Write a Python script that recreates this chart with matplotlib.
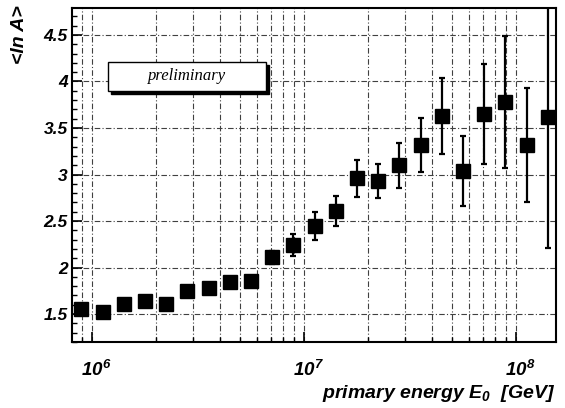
import numpy as np
import matplotlib
matplotlib.use("Agg")
import matplotlib.pyplot as plt
from matplotlib.ticker import MultipleLocator, FixedLocator, FuncFormatter, NullFormatter
from matplotlib.patches import Rectangle

# ---- data ----
log_energy = [5.95, 6.05, 6.15, 6.25, 6.35, 6.45, 6.55, 6.65, 6.75, 6.85, 6.95, 7.05,
              7.15, 7.25, 7.35, 7.45, 7.55, 7.65, 7.75, 7.85, 7.95, 8.05, 8.15]
mean_lnA = [1.556, 1.527, 1.61, 1.638, 1.613, 1.75, 1.78, 1.846, 1.853, 2.11, 2.24, 2.45,
            2.605, 2.96, 2.93, 3.10, 3.32, 3.63, 3.035, 3.65, 3.78, 3.32, 3.62]
err_lnA = [0.02, 0.02, 0.02, 0.02, 0.02, 0.03, 0.03, 0.03, 0.04, 0.07, 0.12, 0.15,
           0.16, 0.20, 0.18, 0.24, 0.29, 0.41, 0.375, 0.54, 0.71, 0.61, 1.41]
xtick_decades = [6, 7, 8]
ytick_values = [1.5, 2, 2.5, 3, 3.5, 4, 4.5]

plt.rcParams['mathtext.fontset'] = 'custom'
plt.rcParams['mathtext.rm'] = 'Liberation Sans:bold:italic'
plt.rcParams['mathtext.it'] = 'Liberation Sans:bold:italic'
plt.rcParams['mathtext.bf'] = 'Liberation Sans:bold:italic'
plt.rcParams['mathtext.default'] = 'rm'

W, H = 565, 408
fig = plt.figure(figsize=(W / 100, H / 100), dpi=100)
L, R, T, B = 72, 556, 8, 342
ax = fig.add_axes([L / W, (H - B) / H, (R - L) / W, (B - T) / H])

energy = [10 ** e for e in log_energy]
ax.set_xscale('log')
ax.set_xlim(10 ** 5.906, 10 ** 8.189)
ax.set_ylim(1.2, 4.79)

# grid
minor_x = [m * 10 ** d for d in (5, 6, 7) for m in range(2, 10)]
ax.xaxis.set_major_locator(FixedLocator([10 ** d for d in xtick_decades]))
ax.xaxis.set_minor_locator(FixedLocator(minor_x))
ax.yaxis.set_major_locator(FixedLocator(ytick_values))
ax.yaxis.set_minor_locator(MultipleLocator(0.1))

gstyle = dict(color='0.25', linewidth=0.8, linestyle=(0, (5, 2, 1, 2)))
ax.grid(True, which='both', axis='x', **gstyle)
ax.grid(True, which='major', axis='y', **gstyle)
ax.set_axisbelow(True)

ax.errorbar(energy, mean_lnA, yerr=err_lnA, fmt='s', color='black', ms=10,
            capsize=2.2, elinewidth=1.6, capthick=1.6, zorder=3)

ax.xaxis.set_major_formatter(FuncFormatter(lambda v, p: r'$10^{%d}$' % round(np.log10(v))))
ax.xaxis.set_minor_formatter(NullFormatter())
ax.yaxis.set_major_formatter(FuncFormatter(lambda v, p: '%g' % v))

for lab in ax.get_yticklabels():
    lab.set_fontfamily('Liberation Sans')
    lab.set_fontweight('bold')
    lab.set_fontstyle('italic')

ax.tick_params(axis='both', which='both', direction='in', top=False, right=False)
ax.tick_params(axis='both', which='major', length=7, width=1.2)
ax.tick_params(axis='both', which='minor', length=3.5, width=1.0)
ax.tick_params(axis='x', which='major', pad=13, labelsize=13.5)
ax.tick_params(axis='y', which='major', pad=3, labelsize=12.5)

for lab in ax.get_xticklabels():
    lab.set_x(lab.get_position()[0])
# shift x tick labels slightly right like the original
import matplotlib.transforms as mtransforms
offset = mtransforms.ScaledTranslation(4 / 100, 0, fig.dpi_scale_trans)
for lab in ax.get_xticklabels():
    lab.set_transform(lab.get_transform() + offset)

for s in ax.spines.values():
    s.set_linewidth(1.5)

font_bi = dict(family='Liberation Sans', fontweight='bold', fontstyle='italic')
fig.text(19 / W, 1 - 5 / H, '<ln A>', rotation=90, ha='center', va='top',
         fontsize=14, **font_bi)
fig.text(555 / W, 1 - 393 / H, r'primary energy $E_0$  [GeV]', ha='right', va='center',
         fontsize=14, **font_bi)

# preliminary box with shadow
bx0, bx1 = (108 - L) / (R - L), (266 - L) / (R - L)
by0, by1 = (B - 91) / (B - T), (B - 62) / (B - T)
dx, dy = 3 / (R - L), 3 / (B - T)
ax.add_patch(Rectangle((bx0 + dx, by0 - dy), bx1 - bx0, by1 - by0, transform=ax.transAxes,
                       facecolor='black', edgecolor='black', zorder=5))
ax.add_patch(Rectangle((bx0, by0), bx1 - bx0, by1 - by0, transform=ax.transAxes,
                       facecolor='white', edgecolor='black', linewidth=1.0, zorder=6))
ax.text((bx0 + bx1) / 2, (by0 + by1) / 2, 'preliminary', transform=ax.transAxes,
        ha='center', va='center', fontsize=12, family='Liberation Serif',
        fontstyle='italic', zorder=7)

fig.savefig('out.png', dpi=100)
